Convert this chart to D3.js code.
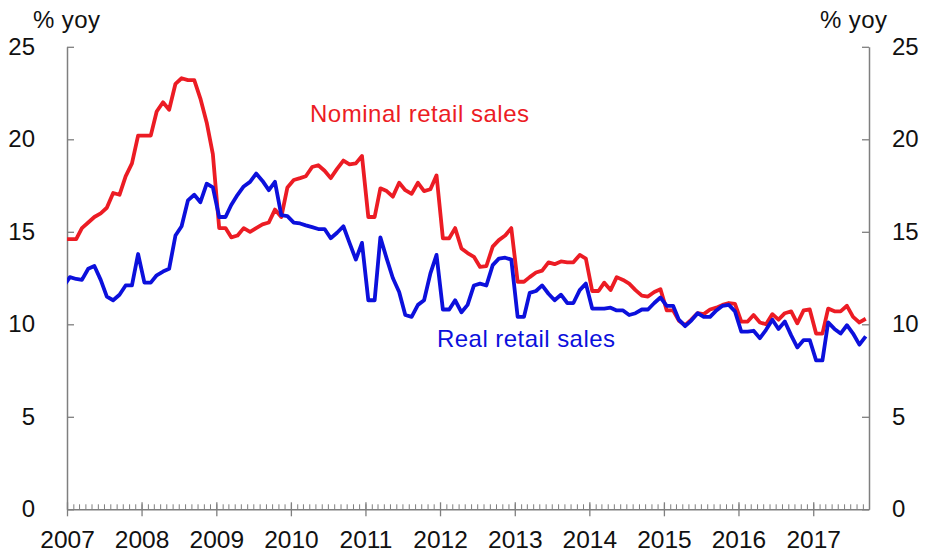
<!DOCTYPE html>
<html><head><meta charset="utf-8">
<script src="https://cdn.jsdelivr.net/npm/d3@7"></script>
<style>
body{margin:0;background:#fff}
svg{display:block}
text{font-family:"Liberation Sans",Arial,Helvetica,sans-serif}
</style>
</head><body>
<svg id="chart" width="926" height="556"></svg>
<script>
// ---- data (monthly, % yoy), first value = Dec 2006 (clipped at axis) ----
const startMonth = "2006-12";
const nominal = [14.6,
  14.6, 14.6, 15.2, 15.5, 15.8, 16.0, 16.3, 17.1, 17.0, 18.0, 18.7, 20.2,
  20.2, 20.2, 21.5, 22.0, 21.6, 23.0, 23.3, 23.2, 23.2, 22.2, 20.9, 19.2,
  15.2, 15.2, 14.7, 14.8, 15.2, 15.0, 15.2, 15.4, 15.5, 16.2, 15.8, 17.4,
  17.8, 17.9, 18.0, 18.5, 18.6, 18.3, 17.9, 18.4, 18.85, 18.65, 18.7, 19.1,
  15.8, 15.8, 17.35, 17.2, 16.9, 17.65, 17.25, 17.05, 17.65, 17.2, 17.3, 18.05,
  14.65, 14.65, 15.2, 14.1, 13.85, 13.65, 13.1, 13.15, 14.2, 14.55, 14.8, 15.2,
  12.3, 12.3, 12.55, 12.8, 12.9, 13.35, 13.25, 13.4, 13.35, 13.35, 13.75, 13.55,
  11.8, 11.8, 12.25, 11.85, 12.55, 12.4, 12.2, 11.85, 11.55, 11.5, 11.75, 11.9,
  10.75, 10.75, 10.2, 9.95, 10.25, 10.6, 10.55, 10.8, 10.9, 11.05, 11.15, 11.1,
  10.15, 10.15, 10.5, 10.1, 10.0, 10.55, 10.25, 10.6, 10.7, 10.05, 10.75, 10.8,
  9.5, 9.5, 10.85, 10.7, 10.7, 11.0, 10.4, 10.1, 10.3];
const real = [12.05,
  12.55, 12.45, 12.4, 13.0, 13.15, 12.4, 11.5, 11.3, 11.6, 12.1, 12.1, 13.8,
  12.25, 12.25, 12.65, 12.85, 13.0, 14.8, 15.3, 16.7, 17.0, 16.6, 17.6, 17.4,
  15.8, 15.8, 16.45, 17.0, 17.45, 17.7, 18.15, 17.75, 17.25, 17.7, 15.9, 15.85,
  15.5, 15.45, 15.35, 15.25, 15.15, 15.15, 14.65, 14.95, 15.3, 14.4, 13.5, 14.4,
  11.3, 11.3, 14.7, 13.55, 12.5, 11.75, 10.5, 10.4, 11.05, 11.3, 12.75, 13.75,
  10.8, 10.8, 11.3, 10.65, 11.05, 12.1, 12.2, 12.1, 13.2, 13.55, 13.6, 13.5,
  10.4, 10.4, 11.7, 11.8, 12.1, 11.65, 11.3, 11.6, 11.15, 11.15, 11.85, 12.2,
  10.85, 10.85, 10.85, 10.9, 10.75, 10.75, 10.5, 10.6, 10.8, 10.8, 11.15, 11.45,
  11.0, 11.0, 10.25, 9.9, 10.2, 10.6, 10.4, 10.4, 10.75, 11.0, 11.05, 10.7,
  9.6, 9.6, 9.65, 9.25, 9.7, 10.25, 9.75, 10.15, 9.4, 8.75, 9.15, 9.15,
  8.05, 8.05, 10.1, 9.75, 9.5, 9.95, 9.5, 8.9, 9.35];
const yTicks = [0, 5, 10, 15, 20, 25];
const yearTicks = [2007, 2008, 2009, 2010, 2011, 2012, 2013, 2014, 2015, 2016, 2017];
const unitLabel = "% yoy";
const seriesNames = ["Nominal retail sales", "Real retail sales"];

// ---- layout ----
const L = 67, R = 869, T = 46.8, B = 509.3;
const RED = "#ec1c24", BLUE = "#0c10dc", AXIS = "#7f7f7f";
const FONT = '"Liberation Sans",Arial,sans-serif';

const svg = d3.select("#chart");
const parse = d3.timeParse("%Y-%m");
const t0 = parse(startMonth);
const dates = nominal.map((_, i) => d3.timeDay.offset(d3.timeMonth.offset(t0, i), 14));

const x = d3.scaleTime().domain([new Date(2007, 0, 1), new Date(2017, 9, 1)]).range([L, R]);
const y = d3.scaleLinear().domain([0, 25]).range([B, T]);

svg.append("defs").append("clipPath").attr("id", "plot")
  .append("rect").attr("x", L).attr("y", 0).attr("width", R - L).attr("height", 556);

// left axis
const gL = svg.append("g").attr("transform", `translate(${L},0)`)
  .call(d3.axisLeft(y).tickValues(yTicks).tickSize(-7).tickSizeOuter(0).tickPadding(32));
// right axis
const gR = svg.append("g").attr("transform", `translate(${R},0)`)
  .call(d3.axisRight(y).tickValues(yTicks).tickSize(-7).tickSizeOuter(0).tickPadding(23));
[gL, gR].forEach(g => {
  g.select(".domain").attr("stroke", AXIS).attr("stroke-width", 1.5);
  g.selectAll(".tick line").attr("stroke", AXIS).attr("stroke-width", 1.3);
  g.selectAll(".tick text").attr("fill", "#111").attr("font-size", 24).style("font-family", FONT);
});

// bottom axis: minor monthly ticks (upward)
const gMin = svg.append("g").attr("transform", `translate(0,${B})`)
  .call(d3.axisBottom(x).ticks(d3.timeMonth.every(1)).tickSize(-5).tickSizeOuter(0).tickFormat(""));
gMin.select(".domain").attr("stroke", AXIS).attr("stroke-width", 1.5);
gMin.selectAll(".tick line").attr("stroke", AXIS).attr("stroke-width", 1);

// year ticks crossing axis with labels
const yearDates = yearTicks.map(yy => new Date(yy, 0, 1));
const gYr = svg.append("g").attr("transform", `translate(0,${B})`)
  .call(d3.axisBottom(x).tickValues(yearDates).tickSize(7).tickSizeOuter(0).tickPadding(14)
    .tickFormat(d3.timeFormat("%Y")));
gYr.select(".domain").remove();
gYr.selectAll(".tick line").attr("stroke", AXIS).attr("stroke-width", 1.3).attr("y1", -7);
gYr.selectAll(".tick text").attr("fill", "#111").attr("font-size", 24.5).style("font-family", FONT);

// lines
const line = d3.line().x((d, i) => x(dates[i])).y(d => y(d));
const plot = svg.append("g").attr("clip-path", "url(#plot)");
plot.append("path").datum(nominal).attr("d", line)
  .attr("fill", "none").attr("stroke", RED).attr("stroke-width", 3.8).attr("stroke-linejoin", "round");
plot.append("path").datum(real).attr("d", line)
  .attr("fill", "none").attr("stroke", BLUE).attr("stroke-width", 3.8).attr("stroke-linejoin", "round");

// unit labels
svg.append("text").attr("x", 33).attr("y", 28).attr("font-size", 24).attr("fill", "#111")
  .attr("textLength", 67).text(unitLabel);
svg.append("text").attr("x", 820).attr("y", 28).attr("font-size", 24).attr("fill", "#111")
  .attr("textLength", 67).text(unitLabel);

// series labels
svg.append("text").attr("x", 310).attr("y", 122).attr("font-size", 24).attr("fill", RED)
  .attr("textLength", 219).text(seriesNames[0]);
svg.append("text").attr("x", 437).attr("y", 347).attr("font-size", 24).attr("fill", BLUE)
  .attr("textLength", 178).text(seriesNames[1]);
</script>
</body></html>
